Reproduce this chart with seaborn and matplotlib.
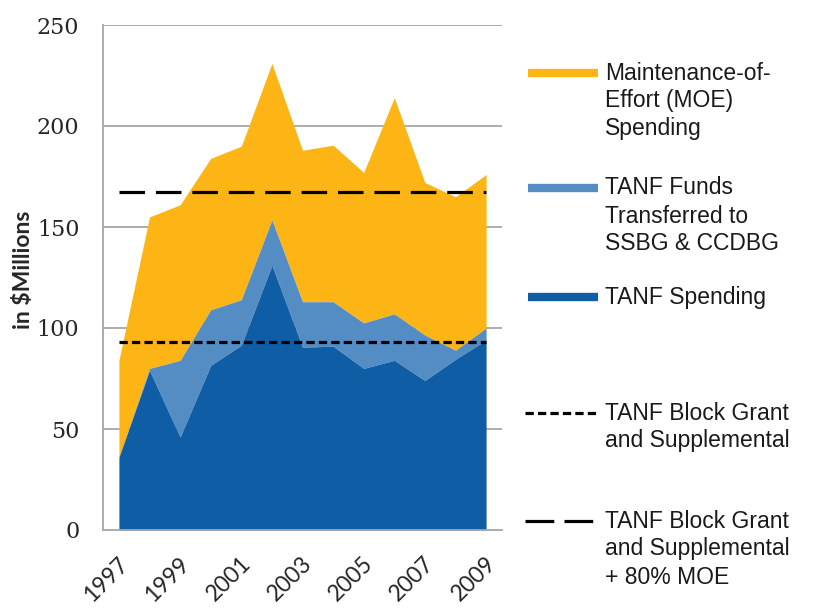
import numpy as np
import pandas as pd
import matplotlib
matplotlib.use("Agg")
import matplotlib.pyplot as plt
import matplotlib.transforms as mtransforms
import seaborn as sns
from matplotlib.lines import Line2D

# Fiscal years and spending components (in $ millions)
years = [1997, 1998, 1999, 2000, 2001, 2002, 2003, 2004, 2005, 2006, 2007, 2008, 2009]
tanf_spending = [36, 79, 46, 81.5, 91.5, 131, 90.5, 91, 80, 84, 74, 84.5, 94]
tanf_transferred = [0, 1, 38, 27.5, 22.5, 22.5, 22.5, 22, 22.5, 23, 22.5, 4.5, 6]
moe_spending = [48, 75, 77, 75, 76, 77.5, 75, 77.5, 74.5, 107, 75.5, 76, 76]

# Reference levels
block_grant = 93
block_grant_plus_moe = 167.5

tick_years = [1997, 1999, 2001, 2003, 2005, 2007, 2009]
y_ticks = [0, 50, 100, 150, 200, 250]

legend_area = [
    ("Maintenance-of-\nEffort (MOE)\nSpending", "#FDB515"),
    ("TANF Funds\nTransferred to\nSSBG & CCDBG", "#548DC4"),
    ("TANF Spending", "#0F5EA5"),
]
legend_lines = [
    ("TANF Block Grant\nand Supplemental", "short"),
    ("TANF Block Grant\nand Supplemental\n+ 80% MOE", "long"),
]

sns.set_theme(style="white")
plt.rcParams["font.family"] = ["DejaVu Sans"]

df = pd.DataFrame({
    "year": years,
    "tanf": tanf_spending,
    "transferred": tanf_transferred,
    "moe": moe_spending,
})
df["layer1"] = df["tanf"]
df["layer2"] = df["layer1"] + df["transferred"]
df["layer3"] = df["layer2"] + df["moe"]
df["grant"] = block_grant
df["grant_moe"] = block_grant_plus_moe

W, H = 825, 612
fig = plt.figure(figsize=(W / 100, H / 100), dpi=100)
ax = fig.add_axes([103 / W, 1 - 530 / H, (502 - 103) / W, (530 - 25) / H])

grid_col = "#A6A6A6"
for v in y_ticks[1:]:
    ax.axhline(v, color=grid_col, lw=1.3, zorder=0)

c_moe, c_trans, c_tanf = [c for _, c in legend_area]
ax.fill_between(df["year"], df["layer2"], df["layer3"], color=c_moe, lw=0, zorder=1)
ax.fill_between(df["year"], df["layer1"], df["layer2"], color=c_trans, lw=0, zorder=2)
ax.fill_between(df["year"], 0, df["layer1"], color=c_tanf, lw=0, zorder=3)

short_dash = (0, (2.6, 1.3))
long_dash = (0, (8.0, 3.4))
sns.lineplot(data=df, x="year", y="grant", ax=ax, color="black", lw=2.3,
             linestyle=short_dash, zorder=4)
sns.lineplot(data=df, x="year", y="grant_moe", ax=ax, color="black", lw=2.3,
             linestyle=long_dash, zorder=4)

ax.set_xlim(1996.48, 2009.52)
ax.set_ylim(0, 250)
ax.set_yticks(y_ticks)
ax.set_yticklabels([str(v) for v in y_ticks], family="DejaVu Serif", fontsize=16)
ax.set_xticks(tick_years)
ax.set_xticklabels([str(y) for y in tick_years], family="Lato", fontsize=16.5,
                   rotation=45, ha="right", va="center", rotation_mode="anchor")
ax.tick_params(axis="y", length=0, pad=17)
ax.tick_params(axis="x", length=0, pad=22)
shift = mtransforms.ScaledTranslation(0.06, 0, fig.dpi_scale_trans)
for lbl in ax.get_xticklabels():
    lbl.set_transform(lbl.get_transform() + shift)
ax.set_xlabel("")
ax.set_ylabel("in $Millions", family="Lato", fontweight="bold", fontsize=16.5)
ax.yaxis.set_label_coords(-0.172, 0.515)

for s in ["top", "right"]:
    ax.spines[s].set_visible(False)
for s in ["left", "bottom"]:
    ax.spines[s].set_color(grid_col)
    ax.spines[s].set_linewidth(1.3)
ax.spines["bottom"].set_zorder(5)

# Legend drawn in figure pixel positions
def fx(x):
    return x / W

def fy(y):
    return 1 - y / H

text_x = 605
line_gap = 28
area_rows = [73, 188, 297]
for (label, color), y0 in zip(legend_area, area_rows):
    fig.add_artist(Line2D([fx(528), fx(598)], [fy(y0), fy(y0)], color=color,
                          lw=6, solid_capstyle="butt"))
    for i, part in enumerate(label.split("\n")):
        fig.text(fx(text_x), fy(y0 + i * line_gap), part, family="Liberation Sans",
                 fontsize=16.5, va="center", ha="left", color="#1a1a1a")

line_rows = [413, 521]
for (label, kind), y0 in zip(legend_lines, line_rows):
    ls = (0, (2.6, 1.3)) if kind == "short" else (0, (9.0, 3.2))
    fig.add_artist(Line2D([fx(525), fx(598)], [fy(y0), fy(y0)], color="black",
                          lw=2.3, linestyle=ls))
    for i, part in enumerate(label.split("\n")):
        fig.text(fx(text_x), fy(y0 + i * line_gap), part, family="Liberation Sans",
                 fontsize=16.5, va="center", ha="left", color="#1a1a1a")

fig.savefig("out.png", dpi=100, facecolor="white")
